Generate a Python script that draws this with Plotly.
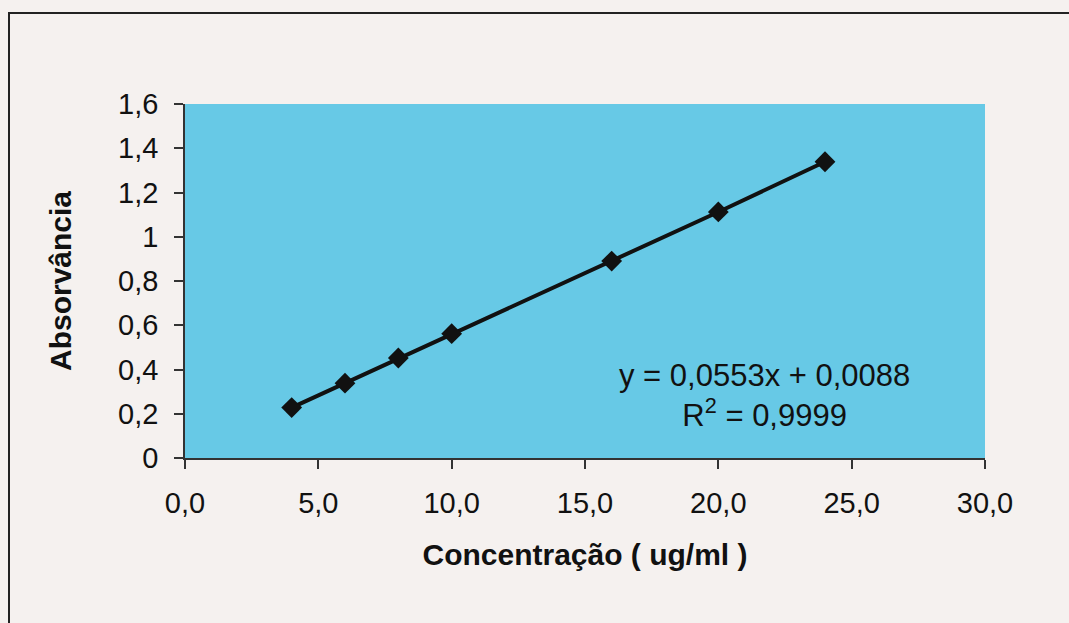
import plotly.graph_objects as go

# Data
concentracao = [4, 6, 8, 10, 16, 20, 24]
absorvancia = [0.228, 0.338, 0.452, 0.562, 0.890, 1.112, 1.339]

x_tickvals = [0, 5, 10, 15, 20, 25, 30]
x_ticktext = ["0,0", "5,0", "10,0", "15,0", "20,0", "25,0", "30,0"]
y_tickvals = [0, 0.2, 0.4, 0.6, 0.8, 1.0, 1.2, 1.4, 1.6]
y_ticktext = ["0", "0,2", "0,4", "0,6", "0,8", "1", "1,2", "1,4", "1,6"]

x_title = "Concentração ( ug/ml )"
y_title = "Absorvância"
equation_text = "y = 0,0553x + 0,0088<br>R<sup>2</sup> = 0,9999"

W, H = 1069, 623
L, R, T, B = 185, 84, 104, 165
pw, ph = W - L - R, H - T - B

def px_to_paper_x(px):
    return (px - L) / pw

def px_to_paper_y(py):
    return (H - B - py) / ph

FONT = "Liberation Sans, Arial, sans-serif"

fig = go.Figure()
fig.add_trace(go.Scatter(
    x=concentracao, y=absorvancia, mode="lines+markers",
    line=dict(color="#111111", width=4),
    marker=dict(symbol="diamond", size=16, color="#111111"),
    showlegend=False,
))

fig.update_layout(
    width=W, height=H,
    margin=dict(l=L, r=R, t=T, b=B),
    paper_bgcolor="#f5f1ef",
    plot_bgcolor="#67c9e6",
    font=dict(family=FONT, color="#111111"),
    xaxis=dict(
        range=[0, 30], tickvals=x_tickvals, ticktext=x_ticktext,
        showgrid=False, zeroline=False, showline=True, linecolor="#333333", linewidth=1.5,
        ticks="outside", ticklen=9, tickcolor="#333333", tickwidth=1.5,
        ticklabelstandoff=9,
        tickfont=dict(size=29, family=FONT, color="#111111"),
        title=dict(text="<b>" + x_title + "</b>", font=dict(size=30, family=FONT, color="#111111"), standoff=26),
    ),
    yaxis=dict(
        range=[0, 1.6], tickvals=y_tickvals, ticktext=y_ticktext,
        showgrid=False, zeroline=False, showline=True, linecolor="#333333", linewidth=1.5,
        ticks="outside", ticklen=9, tickcolor="#333333", tickwidth=1.5,
        ticklabelstandoff=10,
        tickfont=dict(size=29, family=FONT, color="#111111"),
        title=dict(text="<b>" + y_title + "</b>", font=dict(size=30, family=FONT, color="#111111"), standoff=38),
    ),
    annotations=[dict(
        x=px_to_paper_x(764), y=px_to_paper_y(395), xref="paper", yref="paper",
        text=equation_text, showarrow=False, align="center",
        font=dict(size=31, family=FONT, color="#111111"),
        xanchor="center", yanchor="middle",
    )],
    shapes=[dict(
        type="rect", xref="paper", yref="paper",
        x0=px_to_paper_x(9), x1=px_to_paper_x(1080),
        y0=px_to_paper_y(640), y1=px_to_paper_y(13),
        line=dict(color="#222222", width=2), fillcolor="rgba(0,0,0,0)", layer="below",
    )],
)

fig.write_html("out.html")
